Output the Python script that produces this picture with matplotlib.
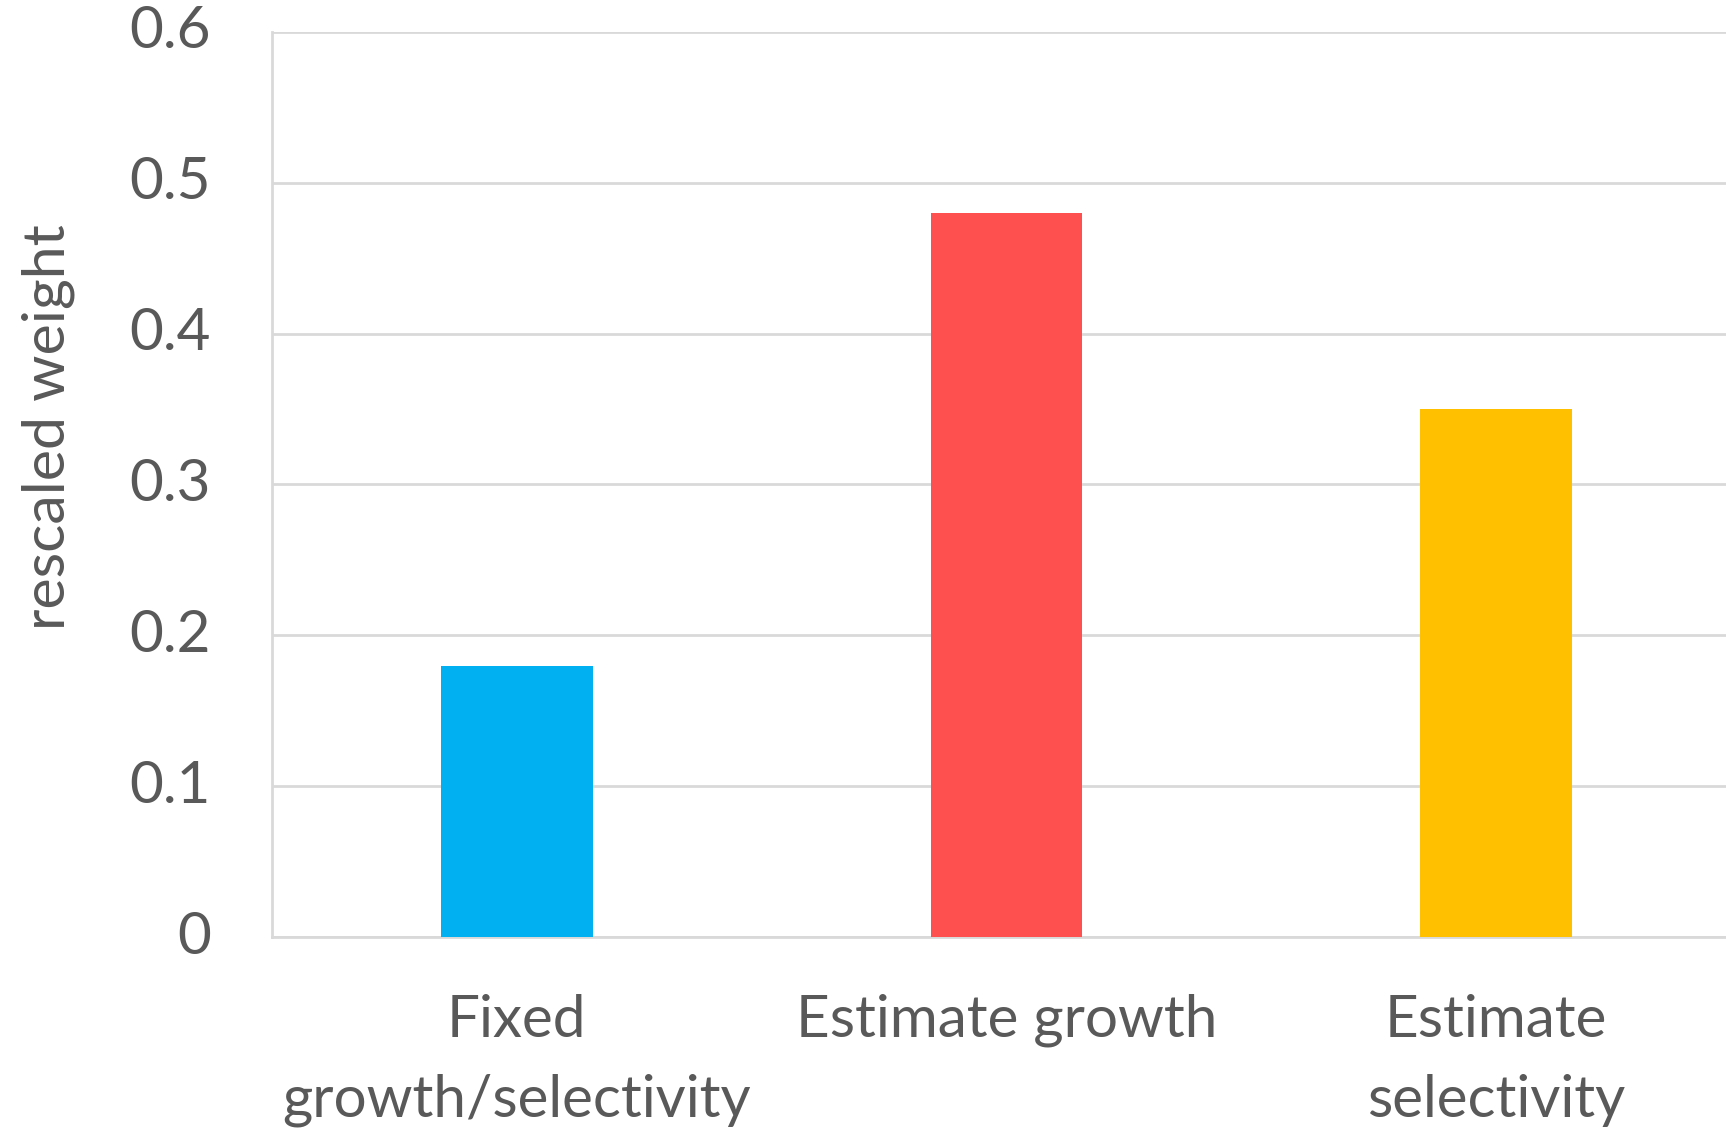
import matplotlib
matplotlib.use("Agg")
import matplotlib.pyplot as plt

categories = ["Fixed\ngrowth/selectivity", "Estimate growth", "Estimate\nselectivity"]
weights = [0.18, 0.48, 0.35]
colors = ["#00B0F0", "#FF5050", "#FFC000"]
y_ticks = [0, 0.1, 0.2, 0.3, 0.4, 0.5, 0.6]
y_tick_labels = ["0", "0.1", "0.2", "0.3", "0.4", "0.5", "0.6"]

plt.rcParams["font.family"] = ["Lato", "DejaVu Sans"]
text_color = "#595959"
grid_color = "#D9D9D9"

fig = plt.figure(figsize=(17.26, 11.28), dpi=100)
ax = fig.add_axes([272 / 1726, 191 / 1128, (1741 - 272) / 1726, (937 - 32) / 1128])

x = list(range(len(categories)))
ax.bar(x, weights, width=0.31, color=colors, zorder=3)

ax.set_xlim(-0.5, len(categories) - 0.5)
ax.set_ylim(0, 0.6)
ax.set_yticks(y_ticks)
ax.set_yticklabels(y_tick_labels)
ax.set_xticks(x)
ax.set_xticklabels(categories, linespacing=1.62)

ax.yaxis.grid(True, color=grid_color, linewidth=2, zorder=0)
for side in ["top", "right"]:
    ax.spines[side].set_visible(False)
for side in ["left", "bottom"]:
    ax.spines[side].set_color(grid_color)
    ax.spines[side].set_linewidth(2)

ax.tick_params(axis="y", length=0, pad=44, labelsize=42, labelcolor=text_color)
ax.tick_params(axis="x", length=0, pad=41, labelsize=42, labelcolor=text_color)
for lbl in ax.get_yticklabels():
    lbl.set_verticalalignment("center")

fig.text(48 / 1726, 1 - 427 / 1128, "rescaled weight", rotation=90,
         ha="center", va="center", fontsize=42.5, color=text_color)

fig.savefig("out.png", dpi=100)
